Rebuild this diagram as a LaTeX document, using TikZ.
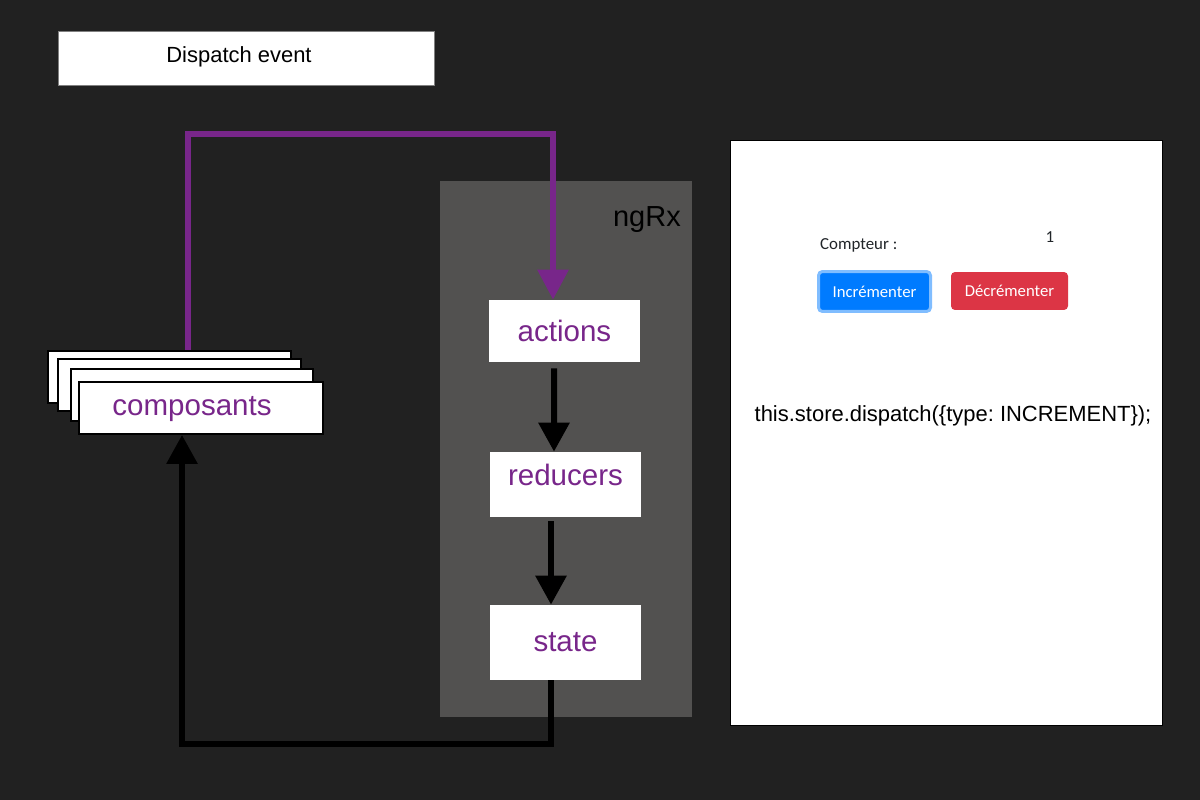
\documentclass[tikz,border=0pt]{standalone}
\usepackage{fontspec}
\setmainfont{Liberation Sans}
\newfontfamily\uifont{Carlito}
\usetikzlibrary{arrows.meta}
\definecolor{bgdark}{RGB}{33,33,33}
\definecolor{panelgray}{RGB}{82,81,80}
\definecolor{ngpurple}{RGB}{120,38,138}
\definecolor{btnblue}{RGB}{0,123,255}
\definecolor{btnring}{RGB}{128,189,255}
\definecolor{btnred}{RGB}{220,53,69}
\definecolor{uitext}{RGB}{33,37,41}
\frenchspacing
\begin{document}
\begin{tikzpicture}[x=0.02cm,y=-0.02cm,
	box/.style={fill=white,minimum width=3.02cm,inner sep=0pt,text=ngpurple,font=\fontsize{16.8}{18}\selectfont},
	layer/.style={draw=black,line width=0.04cm,fill=white,minimum width=4.86cm,minimum height=1.04cm,inner sep=0pt},
	purpleflow/.style={draw=ngpurple,line width=0.12cm,-{Triangle[width=0.6cm,length=0.6cm]}},
	blackflow/.style={draw=black,line width=0.12cm,-{Triangle[width=0.6cm,length=0.58cm]}},
	btn/.style={rounded corners=0.08cm,text=white,inner sep=0pt,font=\uifont\fontsize{9.5}{11}\selectfont}]
	% background and panels
	\fill[bgdark] (0,0) rectangle (1200,800);
	\fill[panelgray] (440,181) rectangle (692,717);
	\node[anchor=east,font=\fontsize{16.5}{18}\selectfont] (ngrx) at (687,220) {ngRx};
	\node[draw=gray,fill=white,minimum width=7.52cm,minimum height=1.08cm,inner sep=0pt,font=\fontsize{12.5}{14}\selectfont,label={[font=\fontsize{12.5}{14}\selectfont,xshift=-0.14cm,yshift=0.02cm]center:Dispatch event}] (dispatch) at (246,58) {};
	% ngRx boxes
	\node[box,minimum height=1.24cm] (actions) at (564.5,331) {actions};
	\node[box,minimum height=1.30cm,label={[text=ngpurple,font=\fontsize{16.8}{18}\selectfont,yshift=0.19cm]center:reducers}] (reducers) at (565.5,484.5) {};
	\node[box,minimum height=1.50cm] (state) at (565.5,642.5) {state};
	% stacked components
	\foreach \i/\x/\y in {1/169.5/377,2/179.5/385,3/192/395}
		\node[layer] (comp\i) at (\x,\y) {};
	\node[layer,minimum width=4.88cm,label={[text=ngpurple,font=\fontsize{16.8}{18}\selectfont,xshift=-0.18cm,yshift=-0.02cm]center:composants}] (composants) at (201,408) {};
	% flows
	\draw[purpleflow] ([xshift=0.37cm]comp1.north) -- ++(0,-216) -| ([xshift=-0.23cm]actions.north);
	\draw[blackflow] ([xshift=-0.21cm,yshift=-0.12cm]actions.south) -- ([xshift=-0.23cm]reducers.north);
	\draw[blackflow] ([xshift=-0.29cm,yshift=-0.08cm]reducers.south) -- ([xshift=-0.29cm]state.north);
	\draw[blackflow] ([xshift=-0.29cm]state.south) -- ++(0,64) -| ([xshift=-0.38cm]composants.south);
	% app preview
	\draw[black,fill=white] (730,140) rectangle (1162,725);
	\node[anchor=base west,text=uitext,font=\uifont\fontsize{9.6}{11}\selectfont] (compteur) at (814,250) {Compteur :};
	\node[anchor=base,text=uitext,font=\uifont\fontsize{9.6}{11}\selectfont] (valeur) at (1050,243) {1};
	\node[btn,fill=btnblue,draw=btnring,line width=0.06cm,minimum width=2.24cm,minimum height=0.8cm] (incr) at (874.5,291.5) {Incrémenter};
	\node[btn,fill=btnred,minimum width=2.34cm,minimum height=0.76cm] (decr) at (1009.5,291) {Décrémenter};
	\node[font=\fontsize{12.5}{14}\selectfont] (code) at (953,416) {this.store.dispatch(\{type: INCREMENT\});};
\end{tikzpicture}
\end{document}
